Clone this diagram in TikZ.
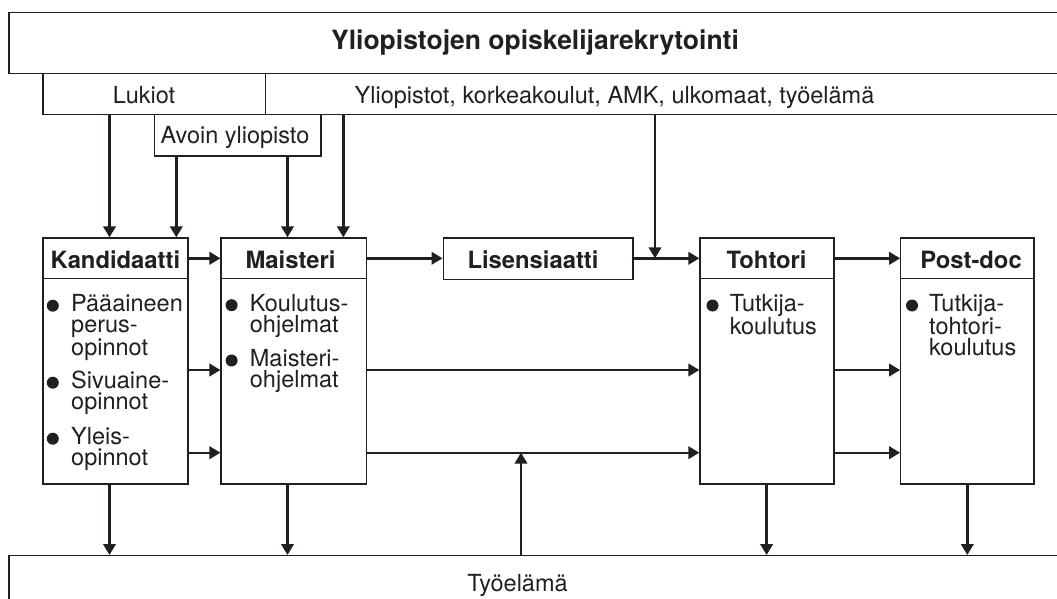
\documentclass[tikz,border=0pt]{standalone}
\usepackage{fontspec}
\setmainfont{TeX Gyre Heros}
\usetikzlibrary{arrows.meta}
\definecolor{ink}{HTML}{231F20}
\begin{document}
\begin{tikzpicture}[x=1pt,y=-1pt,
  box/.style={draw=ink, line width=1.3pt, inner sep=0pt, anchor=north west},
  arr/.style={draw=ink, line width=2.4pt, -{Triangle[length=11pt,width=12.5pt]}},
  ttl/.style={font=\fontsize{26.5}{30}\bfseries\selectfont, text=ink, anchor=base, inner sep=0pt},
  hd/.style={font=\fontsize{23.8}{28}\bfseries\selectfont, text=ink, anchor=base, inner sep=0pt},
  txt/.style={font=\fontsize{23.5}{21}\selectfont, text=ink, anchor=base, inner sep=0pt},
  lst/.style={font=\fontsize{23.5}{21}\selectfont, text=ink, anchor=base west, inner sep=0pt},
  dot/.style={fill=ink}]
\useasboundingbox (0,0) rectangle (1057,599);
\clip (0,0) rectangle (1057,599);
\fill[white] (0,0) rectangle (1057,599);

% top and bottom bands
\node[box, minimum width=1060pt, minimum height=60.7pt] (top) at (8.3,12) {};
\node[ttl] (toptxt) at (535,50) {Yliopistojen opiskelijarekrytointi};
\node[box, minimum width=222.6pt, minimum height=41pt] (luk) at (42.4,72.7) {};
\node[txt] (luktxt) at (144,104) {Lukiot};
\node[box, minimum width=800pt, minimum height=41pt] (yli) at (265,72.7) {};
\node[txt] (ylitxt) at (614.5,104) {Yliopistot, korkeakoulut, AMK, ulkomaat, työelämä};
\node[box, minimum width=166.6pt, minimum height=41.6pt] (avo) at (153.6,113.7) {};
\node[txt] (avotxt) at (235,143.3) {Avoin yliopisto};
\node[box, minimum width=1060pt, minimum height=80pt] (tyo) at (8.3,555) {};
\node[txt] (tyotxt) at (517.5,591.7) {Työelämä};

% stage boxes
\node[box, minimum width=145pt, minimum height=246pt] (kand) at (42.3,237.3) {};
\node[box, minimum width=145.3pt, minimum height=246pt] (maist) at (220.4,237.3) {};
\node[box, minimum width=189.8pt, minimum height=41.2pt] (lis) at (442.5,237.3) {};
\node[box, minimum width=134.1pt, minimum height=246pt] (toht) at (699.3,237.3) {};
\node[box, minimum width=133.2pt, minimum height=246pt] (post) at (900.1,237.3) {};

\coordinate (yD) at (0,278.7);
\foreach \b in {kand,maist,toht,post}
  \draw[draw=ink, line width=1.3pt] (\b.west |- yD) -- (\b.east |- yD);

% headers
\node[hd] (kandh) at (115.4,268.3) {Kandidaatti};
\node[hd] (maisth) at (290.5,268.3) {Maisteri};
\node[hd] (lish) at (533,268.3) {Lisensiaatti};
\node[hd] (tohth) at (766.6,268.3) {Tohtori};
\node[hd] (posth) at (971,268.3) {Post-doc};

% bullet items
\node[lst] (k1) at (71,311.7) {\parbox[t]{114pt}{\raggedright Pääaineen\\perus-\\opinnot}};
\node[lst] (k2) at (71,388.7) {\parbox[t]{114pt}{\raggedright Sivuaine-\\opinnot}};
\node[lst] (k3) at (71,444.7) {\parbox[t]{114pt}{\raggedright Yleis-\\opinnot}};
\node[lst] (m1) at (249.7,311.2) {\parbox[t]{112pt}{\raggedright Koulutus-\\ohjelmat}};
\node[lst] (m2) at (249.7,366.5) {\parbox[t]{112pt}{\raggedright Maisteri-\\ohjelmat}};
\node[lst] (t1) at (729.6,311.5) {\parbox[t]{100pt}{\raggedright Tutkija-\\koulutus}};
\node[lst] (p1) at (929,311.5) {\parbox[t]{100pt}{\raggedright Tutkija-\\tohtori-\\koulutus}};
\foreach \x/\y in {52.8/305.7, 52.8/382.7, 52.8/438.7, 231.6/305.2, 231.6/360.5, 712.5/305.5, 912/305.5}
  \fill[dot] (\x,\y) circle[radius=6pt];

% level coordinates
\coordinate (xL) at (109.5,0);
\coordinate (xA1) at (176.3,0);
\coordinate (xA2) at (287.5,0);
\coordinate (xY1) at (343.3,0);
\coordinate (xY2) at (655,0);
\coordinate (xU) at (521,0);
\coordinate (xT) at (766.6,0);
\coordinate (xP) at (967.3,0);
\coordinate (yH) at (0,258.3);
\coordinate (yM) at (0,370);
\coordinate (yB) at (0,452.7);

% inflows
\draw[arr] (luk.south -| xL) -- (kand.north -| xL);
\draw[arr] (avo.south -| xA1) -- (kand.north -| xA1);
\draw[arr] (avo.south -| xA2) -- (maist.north -| xA2);
\draw[arr] (yli.south -| xY1) -- (maist.north -| xY1);
\coordinate (j) at (xY2 |- yH);
\draw[arr] (yli.south -| xY2) -- (j);

% horizontal flows
\draw[arr] (kand.east |- yH) -- (maist.west |- yH);
\draw[arr] (kand.east |- yM) -- (maist.west |- yM);
\draw[arr] (kand.east |- yB) -- (maist.west |- yB);
\draw[arr] (maist.east |- yH) -- (lis.west |- yH);
\draw[arr] (lis.east |- yH) -- (toht.west |- yH);
\draw[arr] (maist.east |- yM) -- (toht.west |- yM);
\draw[arr] (maist.east |- yB) -- (toht.west |- yB);
\draw[arr] (toht.east |- yH) -- (post.west |- yH);
\draw[arr] (toht.east |- yM) -- (post.west |- yM);
\draw[arr] (toht.east |- yB) -- (post.west |- yB);

% to and from working life
\draw[arr] (kand.south -| xL) -- (tyo.north -| xL);
\draw[arr] (maist.south -| xA2) -- (tyo.north -| xA2);
\draw[arr] (toht.south -| xT) -- (tyo.north -| xT);
\draw[arr] (post.south -| xP) -- (tyo.north -| xP);
\draw[arr] (tyo.north -| xU) -- (xU |- yB);
\end{tikzpicture}
\end{document}
